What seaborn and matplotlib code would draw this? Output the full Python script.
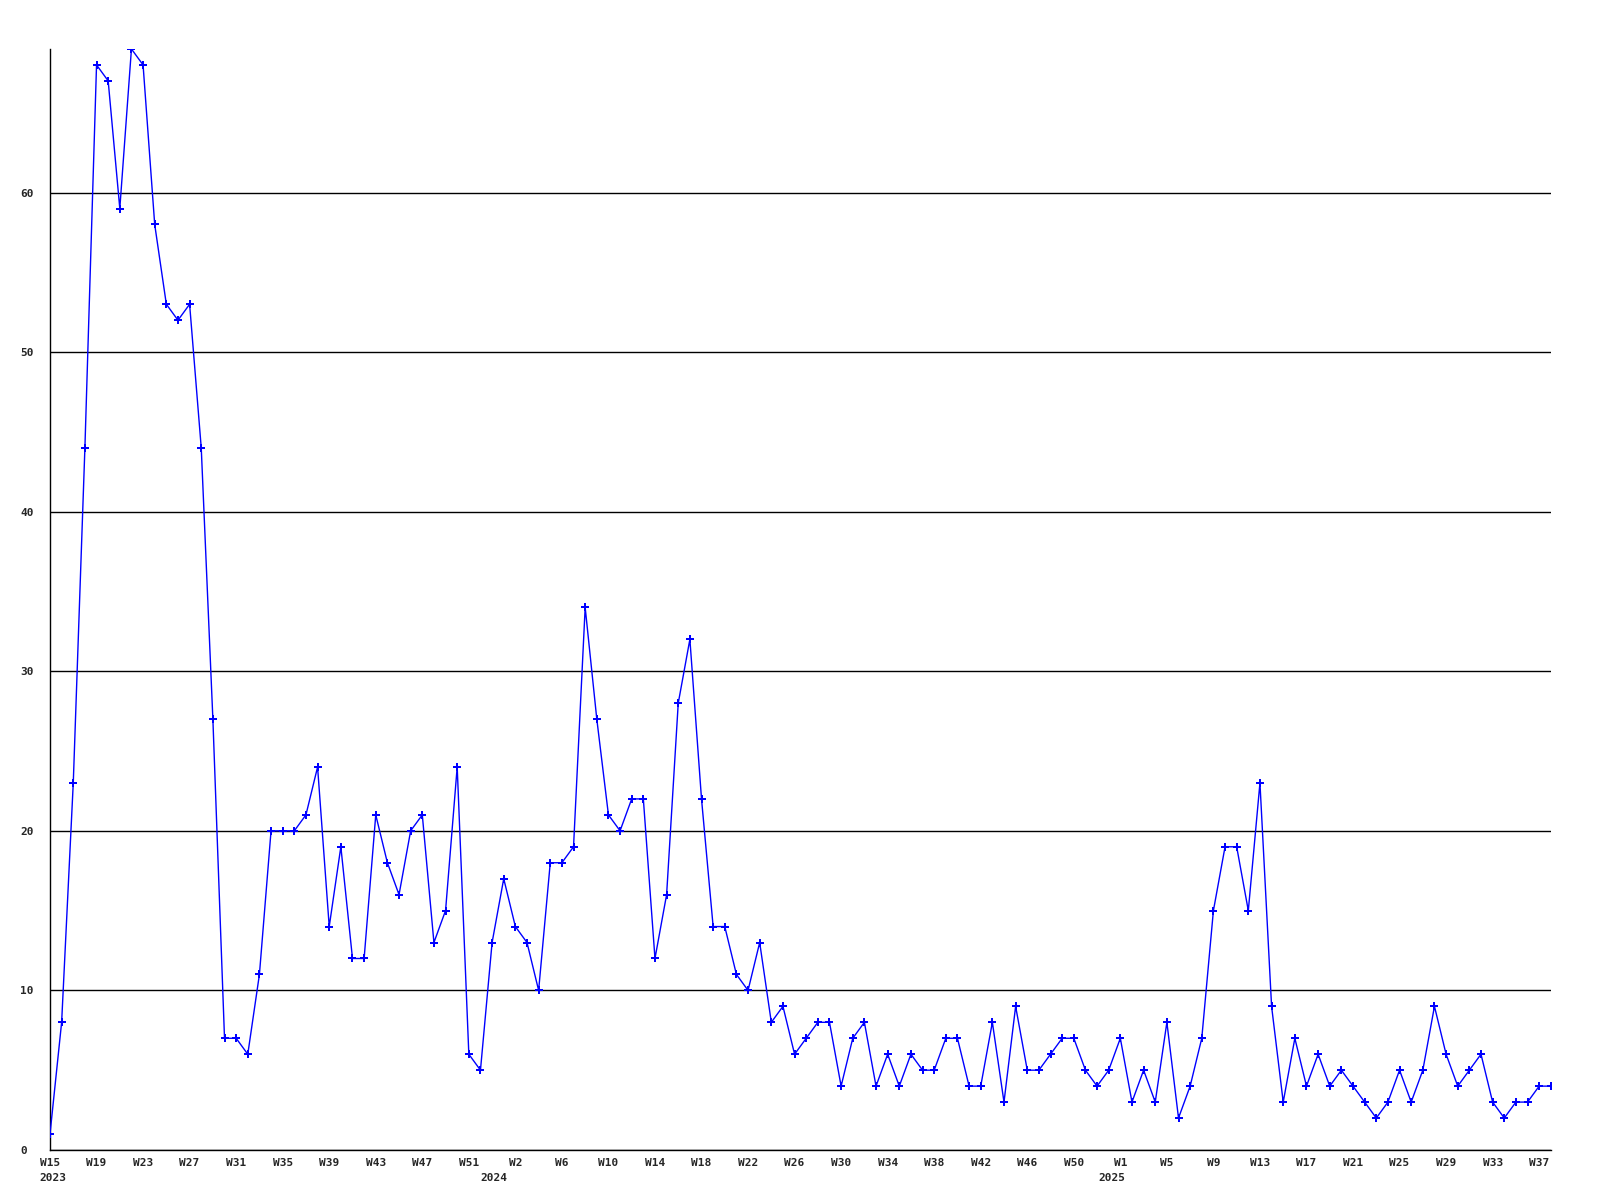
import pandas as pd
import matplotlib
matplotlib.use('Agg')
import matplotlib.pyplot as plt
import seaborn as sns

# ----------------------
# Weekly counts, W15 2023 .. W38 2025
counts = [1, 8, 23, 44, 68, 67, 59, 69, 68, 58,
          53, 52, 53, 44, 27, 7, 7, 6, 11, 20,
          20, 20, 21, 24, 14, 19, 12, 12, 21, 18,
          16, 20, 21, 13, 15, 24, 6, 5, 13, 17,
          14, 13, 10, 18, 18, 19, 34, 27, 21, 20,
          22, 22, 12, 16, 28, 32, 22, 14, 14, 11,
          10, 13, 8, 9, 6, 7, 8, 8, 4, 7,
          8, 4, 6, 4, 6, 5, 5, 7, 7, 4,
          4, 8, 3, 9, 5, 5, 6, 7, 7, 5,
          4, 5, 7, 3, 5, 3, 8, 2, 4, 7,
          15, 19, 19, 15, 23, 9, 3, 7, 4, 6,
          4, 5, 4, 3, 2, 3, 5, 3, 5, 9,
          6, 4, 5, 6, 3, 2, 3, 3, 4, 4]

# x tick labels, one every 4 weeks
tick_weeks = ['W15', 'W19', 'W23', 'W27', 'W31', 'W35', 'W39', 'W43', 'W47', 'W51',
              'W2', 'W6', 'W10', 'W14', 'W18', 'W22', 'W26', 'W30', 'W34', 'W38',
              'W42', 'W46', 'W50',
              'W1', 'W5', 'W9', 'W13', 'W17', 'W21', 'W25', 'W29', 'W33', 'W37']

# year captions and the week label they sit under
years = ['2023', '2024', '2025']
year_weeks = ['W15', 'W2', 'W1']
year_shift_px = [3, -21, -8]   # small horizontal nudge seen in the reference

y_ticks = [0, 10, 20, 30, 40, 50, 60]

df = pd.DataFrame({'week': range(len(counts)), 'count': counts})

# ----------------------
sns.set_style('white')
plt.rcParams['font.family'] = ['DejaVu Sans Mono']
plt.rcParams['font.weight'] = 'bold'

fig = plt.figure(figsize=(16, 12), dpi=100)
ax = fig.add_axes([0.03125, 0.0417, 0.938, 0.9175])

sns.lineplot(data=df, x='week', y='count', color='#0000ff', linewidth=1,
             marker='P', markersize=6, markeredgewidth=0, ax=ax, zorder=3)

ax.set_xlim(0, len(counts) - 1)
ax.set_ylim(0, max(counts))

# y axis: left aligned labels, black horizontal grid
ax.set_yticks(y_ticks)
ax.set_yticklabels([str(v) for v in y_ticks], fontsize=8, fontweight='bold', ha='left')
ax.yaxis.grid(True, color='black', linewidth=1)
ax.xaxis.grid(False)

# x axis: week labels every 4 points
tick_pos = list(range(0, len(counts), 4))
ax.set_xticks(tick_pos)
ax.set_xticklabels(tick_weeks, fontsize=8, fontweight='bold')

ax.tick_params(axis='both', length=0)
ax.tick_params(axis='y', pad=21.5)
ax.tick_params(axis='x', pad=6)

# year captions below their first week label
for yr, wk, dx in zip(years, year_weeks, year_shift_px):
    xpos = tick_pos[tick_weeks.index(wk)]
    ax.annotate(yr, xy=(xpos, 0), xycoords=('data', 'axes fraction'),
                xytext=(dx * 0.72, -20), textcoords='offset points',
                ha='center', va='center', fontsize=8, fontweight='bold')

for s in ['top', 'right']:
    ax.spines[s].set_visible(False)
for s in ['left', 'bottom']:
    ax.spines[s].set_color('black')
    ax.spines[s].set_linewidth(1)

ax.set_xlabel('')
ax.set_ylabel('')

fig.savefig('out.png', dpi=100)
plt.close()
